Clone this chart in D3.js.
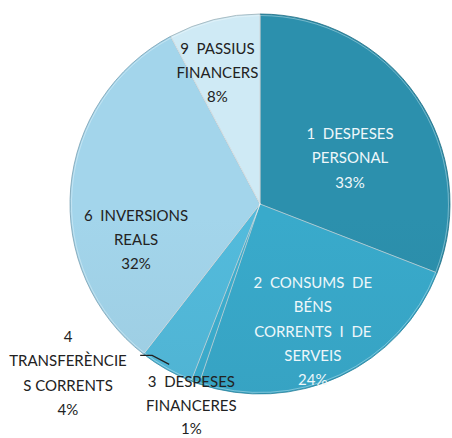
<!DOCTYPE html>
<html>
<head>
<meta charset="utf-8">
<script src="https://cdn.jsdelivr.net/npm/d3@7"></script>
<style>
  body { margin: 0; background: #fff; }
  text { font-family: Lato, "Open Sans", sans-serif; font-size: 15px; white-space: pre; }
</style>
</head>
<body>
<div id="chart"></div>
<script>
// Data (share of the budget, clockwise from 12 o'clock)
const categories = ["1  DESPESES PERSONAL", "2  CONSUMS DE BÉNS CORRENTS I DE SERVEIS",
  "3  DESPESES FINANCERES", "4 TRANSFERÈNCIES CORRENTS", "6  INVERSIONS REALS", "9  PASSIUS FINANCERS"];
const values = [30.9, 24.3, 0.7, 4.6, 31.7, 7.8];
const pctLabels = ["33%", "24%", "1%", "4%", "32%", "8%"];
// label lines as wrapped in the original
const labelLines = [
  ["1  DESPESES", "PERSONAL"],
  ["2  CONSUMS  DE", "BÉNS", "CORRENTS  I  DE", "SERVEIS"],
  ["3  DESPESES", "FINANCERES"],
  ["4", "TRANSFERÈNCIE", "S CORRENTS"],
  ["6  INVERSIONS", "REALS"],
  ["9  PASSIUS", "FINANCERS"]
];
const colors = ["#2a8ba7", "#37a4c4", "#3aa9c9", "#50b4d4", "#9dcee3", "#c8e2ec"];
const textColors = ["#eef7fa", "#eef7fa", "#222", "#222", "#222", "#222"];

const width = 452, height = 438;
const cx = 260, cy = 204, R = 190;

// label placement: [angle in degrees clockwise from top, distance from centre]
const labelPolar = [[63, 101], [157.5, 138], [198.8, 213], [228.6, 256], [254, 129], [342, 138]];

const svg = d3.select("#chart").append("svg")
  .attr("width", width).attr("height", height);

const defs = svg.append("defs");
colors.forEach((c, i) => {
  const g = defs.append("linearGradient").attr("id", "grad" + i)
    .attr("x1", 0).attr("y1", cy - R).attr("x2", 0).attr("y2", cy + R)
    .attr("gradientUnits", "userSpaceOnUse");
  g.append("stop").attr("offset", "0%").attr("stop-color", d3.color(c).brighter(0.1));
  g.append("stop").attr("offset", "100%").attr("stop-color", d3.color(c).darker(0.15));
});

const pie = d3.pie().sort(null).value(d => d);
const arcs = pie(values);
const arc = d3.arc().innerRadius(0).outerRadius(R);

const g = svg.append("g").attr("transform", `translate(${cx},${cy})`);

g.selectAll("path.slice")
  .data(arcs)
  .enter().append("path")
  .attr("class", "slice")
  .attr("d", arc)
  .attr("fill", (d, i) => `url(#grad${i})`)
  .attr("stroke", (d, i) => d3.color(colors[i]).darker(0.7))
  .attr("stroke-width", 0.8);

// thin bevel highlight along the slice edges
g.selectAll("path.bevel")
  .data(arcs)
  .enter().append("path")
  .attr("class", "bevel")
  .attr("d", d3.arc().innerRadius(0).outerRadius(R - 1.5))
  .attr("fill", "none")
  .attr("stroke", "rgba(255,255,255,0.35)")
  .attr("stroke-width", 1);

const polar = (deg, r) => {
  const a = deg * Math.PI / 180;
  return [Math.sin(a) * r, -Math.cos(a) * r];
};

// leader line for the small "4" slice
const mid4 = (arcs[3].startAngle + arcs[3].endAngle) / 2 * 180 / Math.PI;
const end4 = polar(mid4, R * 0.97);
g.append("path")
  .attr("d", d3.line()([[end4[0] - 29, end4[1] - 9], [end4[0] - 17, end4[1] - 9], end4]))
  .attr("fill", "none")
  .attr("stroke", "#222")
  .attr("stroke-width", 1.2);

const lineH = 24.3;
labelLines.forEach((lines, i) => {
  const all = lines.concat([pctLabels[i]]);
  const [x, y] = polar(labelPolar[i][0], labelPolar[i][1]);
  const t = g.append("text")
    .attr("text-anchor", "middle")
    .attr("fill", textColors[i]);
  all.forEach((s, k) => {
    t.append("tspan")
      .attr("x", x)
      .attr("y", y + (k - (all.length - 1) / 2) * (i === 2 ? 23.4 : lineH))
      .attr("dy", "0.35em")
      .text(s);
  });
});
</script>
</body>
</html>
